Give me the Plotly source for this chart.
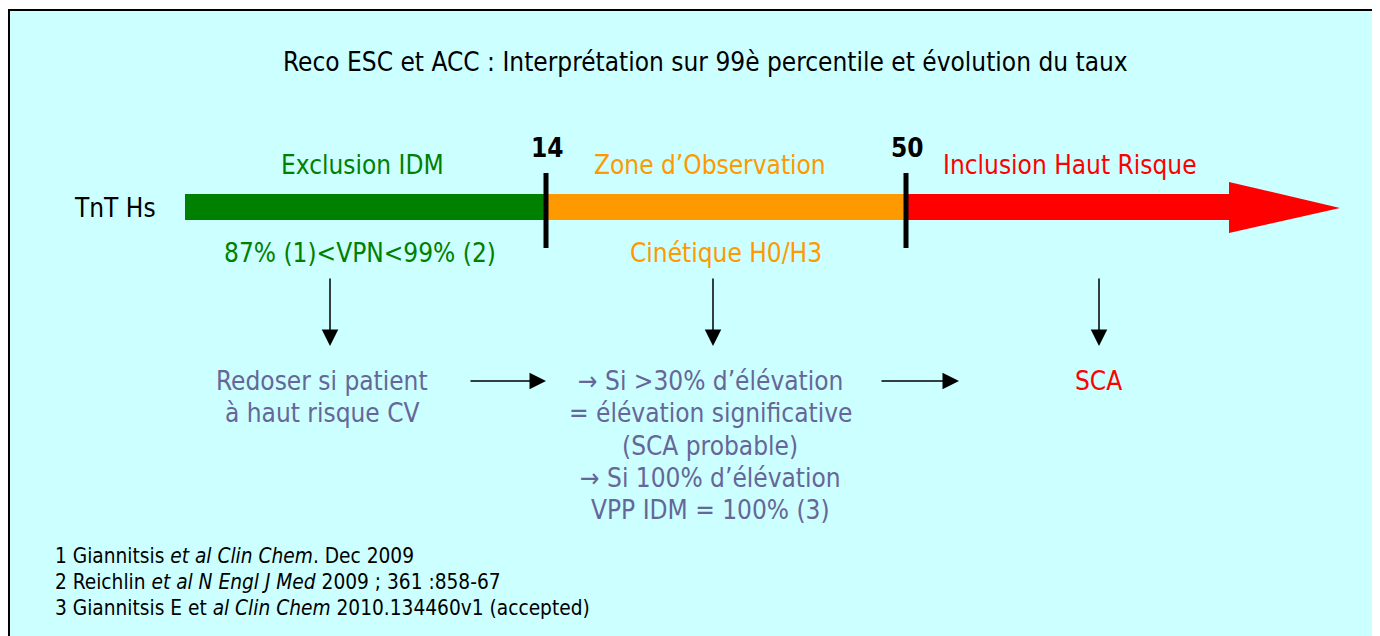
import plotly.graph_objects as go

# ---- data ----
title = "Reco ESC et ACC : Interprétation sur 99è percentile et évolution du taux"
axis_label = "TnT Hs"
thresholds = ["14", "50"]
zones = ["Exclusion IDM", "Zone d’Observation", "Inclusion Haut Risque"]
zone_colors = ["#008000", "#FF9900", "#FF0000"]
zone_sub = ["87% (1)<VPN<99% (2)", "Cinétique H0/H3", ""]
actions = [
    ["Redoser si patient", "à haut risque CV"],
    ["→ Si >30% d’élévation", "= élévation significative", "(SCA probable)",
     "→ Si 100% d’élévation", "VPP IDM = 100% (3)"],
    ["SCA"],
]
action_colors = ["#666699", "#666699", "#FF0000"]
refs = [
    "1 Giannitsis <i>et al Clin Chem</i>. Dec 2009",
    "2 Reichlin <i>et al N Engl J Med</i> 2009 ; 361 :858-67",
    "3 Giannitsis E et <i>al Clin Chem</i> 2010.134460v1 (accepted)",
]

# ---- layout geometry (screen pixels; the page body keeps its 8px margin) ----
VW, VH = 1380, 636
OFF = 8
W, H = VW - OFF, VH - OFF
FONT = "DejaVu Sans Condensed"
FS = 26
seg_x = [185, 546, 906, 1230]
bar_y0, bar_y1 = 194, 220
head_tip = 1340
zone_label_x = [362, 710, 1070]
sub_x = [360, 726, None]
col_x = [322, 710, 1098]
arrow_x = [330, 713, 1099]

fig = go.Figure()
shapes = []
# page box
shapes.append(dict(type="rect", x0=9, x1=1377, y0=10, y1=700,
                   fillcolor="#CCFFFF", line=dict(color="black", width=2), layer="below"))
# bar segments
for i in range(3):
    shapes.append(dict(type="rect", x0=seg_x[i], x1=seg_x[i + 1], y0=bar_y0, y1=bar_y1,
                       fillcolor=zone_colors[i], line=dict(width=0)))
# arrow head
shapes.append(dict(type="path",
                   path=f"M {seg_x[3]-1},182 L {head_tip},208 L {seg_x[3]-1},233 Z",
                   fillcolor=zone_colors[2], line=dict(width=0)))
# threshold markers
for xm in seg_x[1:3]:
    shapes.append(dict(type="line", x0=xm, x1=xm, y0=173, y1=248,
                       line=dict(color="black", width=5)))
fig.update_layout(shapes=shapes)

ann = []
ann.append(dict(x=705, y=62, text=title, showarrow=False,
                font=dict(size=FS, color="black")))
ann.append(dict(x=115, y=208, text=axis_label, showarrow=False,
                font=dict(size=FS, color="black")))
for xm, t in zip(seg_x[1:3], thresholds):
    ann.append(dict(x=xm + 1, y=148, text=f"<b>{t}</b>", showarrow=False,
                    font=dict(size=26, color="black")))
for i in range(3):
    ann.append(dict(x=zone_label_x[i], y=165, text=zones[i], showarrow=False,
                    font=dict(size=FS, color=zone_colors[i])))
    if zone_sub[i]:
        ann.append(dict(x=sub_x[i], y=253, text=zone_sub[i], showarrow=False,
                        font=dict(size=FS, color=zone_colors[i])))
# action texts
for i in range(3):
    for j, line in enumerate(actions[i]):
        ann.append(dict(x=col_x[i], y=381 + 32.3 * j, text=line, showarrow=False,
                        font=dict(size=FS, color=action_colors[i])))
# down arrows
for xa in arrow_x:
    ann.append(dict(x=xa, y=346, ax=xa, ay=277, xref="x", yref="y", axref="x", ayref="y",
                    text="", showarrow=True, arrowhead=2, arrowsize=2.2, arrowwidth=1.5,
                    arrowcolor="black"))
# horizontal arrows
for x0, x1 in [(469, 546), (880, 959)]:
    ann.append(dict(x=x1, y=381, ax=x0, ay=381, xref="x", yref="y", axref="x", ayref="y",
                    text="", showarrow=True, arrowhead=2, arrowsize=2.2, arrowwidth=1.5,
                    arrowcolor="black"))
# references
for j, r in enumerate(refs):
    ann.append(dict(x=53, y=556 + 26 * j, text=r, showarrow=False, xanchor="left",
                    font=dict(size=20.7, color="black")))
fig.update_layout(annotations=ann)

fig.update_layout(
    width=W, height=H, margin=dict(l=0, r=0, t=0, b=0),
    paper_bgcolor="white", plot_bgcolor="white",
    font=dict(family=FONT),
    xaxis=dict(range=[OFF, OFF + W], visible=False, fixedrange=True),
    yaxis=dict(range=[OFF + H, OFF], visible=False, fixedrange=True),
    showlegend=False,
)
fig.write_html("out.html")
